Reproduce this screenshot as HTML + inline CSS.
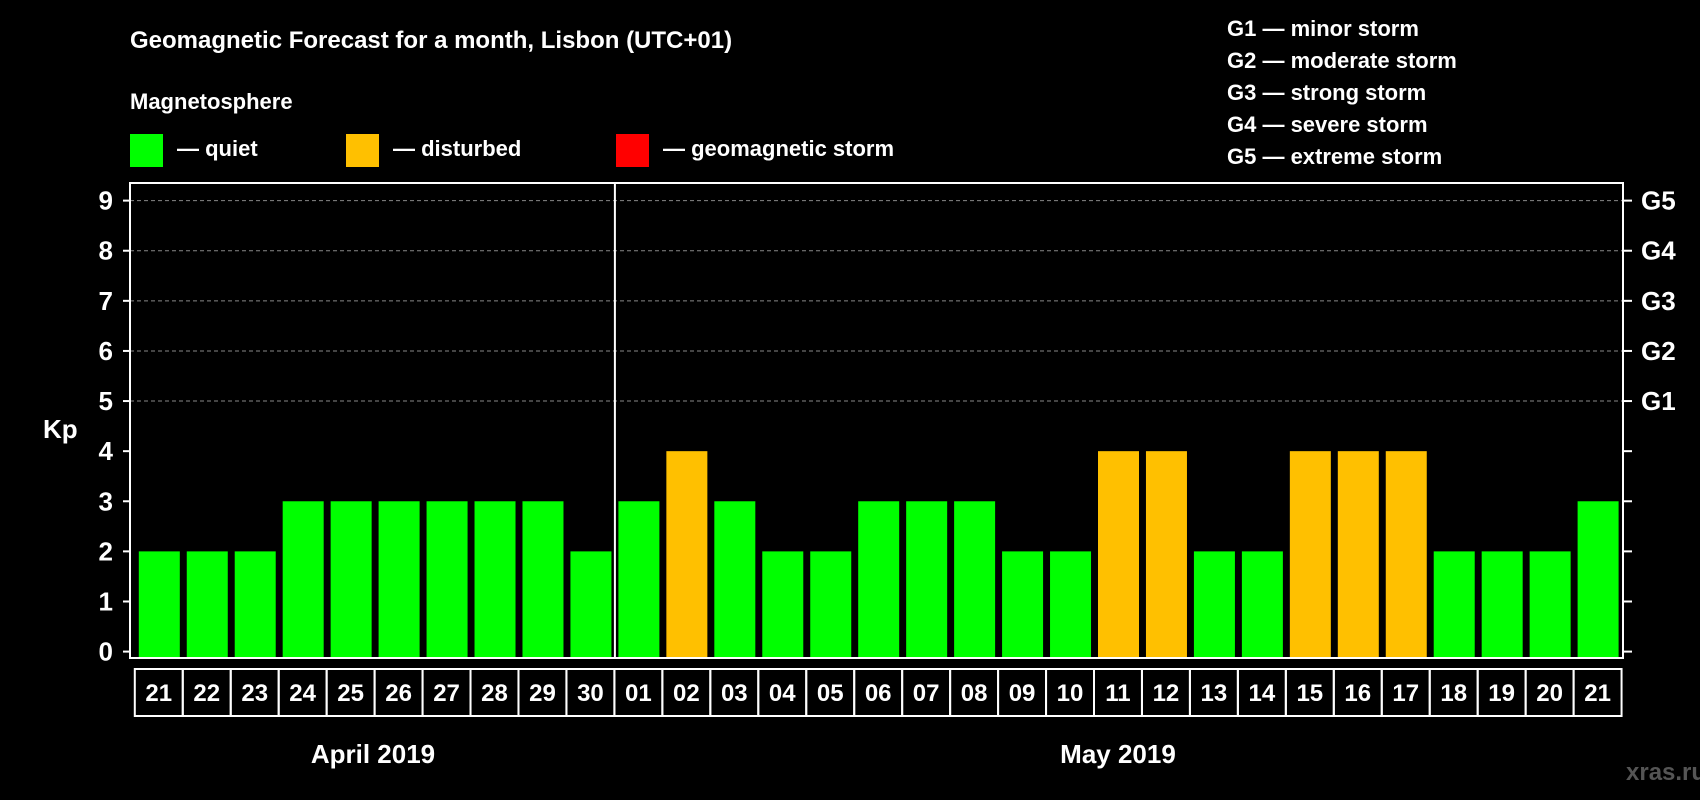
<!DOCTYPE html>
<html><head><meta charset="utf-8"><style>
html,body{margin:0;padding:0;background:#000;}
svg{display:block;font-family:"Liberation Sans",Arial,sans-serif;font-weight:bold;}
</style></head><body>
<svg id="chart" width="1700" height="800" viewBox="0 0 1700 800">
<rect width="1700" height="800" fill="#000"/>
<text x="130" y="48" fill="#fff" font-size="24">Geomagnetic Forecast for a month, Lisbon (UTC+01)</text>
<text x="130" y="109" fill="#fff" font-size="22">Magnetosphere</text>
<g><rect x="130" y="134" width="33" height="33" fill="#00ff00"/><text x="177" y="156" fill="#fff" font-size="22">— quiet</text></g>
<g><rect x="346" y="134" width="33" height="33" fill="#ffc000"/><text x="393" y="156" fill="#fff" font-size="22">— disturbed</text></g>
<g><rect x="616" y="134" width="33" height="33" fill="#ff0000"/><text x="663" y="156" fill="#fff" font-size="22">— geomagnetic storm</text></g>
<g fill="#fff" font-size="22">
<text x="1227" y="36">G1 — minor storm</text>
<text x="1227" y="68">G2 — moderate storm</text>
<text x="1227" y="100">G3 — strong storm</text>
<text x="1227" y="132">G4 — severe storm</text>
<text x="1227" y="164">G5 — extreme storm</text>
</g>
<text x="43" y="438" fill="#fff" font-size="26">Kp</text>
<text x="373" y="763" fill="#fff" font-size="26" text-anchor="middle">April 2019</text>
<text x="1118" y="763" fill="#fff" font-size="26" text-anchor="middle">May 2019</text>
<text x="1626" y="780" fill="#555" font-size="24">xras.ru</text>
<g id="grid"></g><g id="bars"></g><g id="axes"></g><g id="xlabels"></g>
</svg>
<script>
const days=["21","22","23","24","25","26","27","28","29","30","01","02","03","04","05","06","07","08","09","10","11","12","13","14","15","16","17","18","19","20","21"];
const kp=[2,2,2,3,3,3,3,3,3,2,3,4,3,2,2,3,3,3,2,2,4,4,2,2,4,4,4,2,2,2,3];
const yTicks=[0,1,2,3,4,5,6,7,8,9];
const gLabels=["G1","G2","G3","G4","G5"];
const NS="http://www.w3.org/2000/svg";
const L=130,R=1623,T=183,B=658;
const x0=138.8,pitch=47.96,bw=41;
function y(v){return 651.6-v*50.11;}
function xb(i){return x0+i*pitch;}
function mk(t,a,p){const e=document.createElementNS(NS,t);for(const k in a)e.setAttribute(k,a[k]);p.appendChild(e);return e;}
const grid=document.getElementById('grid'),bars=document.getElementById('bars'),axes=document.getElementById('axes'),xl=document.getElementById('xlabels');
yTicks.forEach(v=>{
 if(v>=5){const g=mk('line',{x1:L,x2:R,y1:y(v),y2:y(v),stroke:'#888','stroke-dasharray':'4,3','stroke-width':1},grid);
 
 }
 const t=mk('line',{x1:L-7,x2:L,y1:y(v),y2:y(v),stroke:'#fff','stroke-width':2},axes);
 
 
 const tr=mk('line',{x1:R,x2:R+9,y1:y(v),y2:y(v),stroke:'#fff','stroke-width':2},axes);
 
 
 const lb=mk('text',{x:113,y:y(v)+9,fill:'#fff','font-size':26,'text-anchor':'end'},axes);lb.textContent=v;
 
 
});
gLabels.forEach((g,i)=>{const t=mk('text',{x:1641,y:y(5+i)+9,fill:'#fff','font-size':26},axes);t.textContent=g;
 
 });
kp.forEach((v,i)=>{const r=mk('rect',{x:xb(i),y:y(v),width:bw,height:y(0)-y(v)+6,fill:v>=5?'#ff0000':(v>=4?'#ffc000':'#00ff00')},bars);
 
 });
const box=mk('rect',{x:L,y:T,width:R-L,height:B-T,fill:'none',stroke:'#fff','stroke-width':2},axes);


const sep=mk('line',{x1:xb(10)-3.5,x2:xb(10)-3.5,y1:T,y2:B,stroke:'#fff','stroke-width':2},axes);


days.forEach((d,i)=>{const cx=xb(i)-4;
 const c=mk('rect',{x:cx,y:669,width:pitch,height:47,fill:'none',stroke:'#fff','stroke-width':2},xl);
 
 
 const t=mk('text',{x:cx+pitch/2,y:701,fill:'#fff','font-size':24,'text-anchor':'middle'},xl);t.textContent=d;
 
 });
</script>
</body></html>
